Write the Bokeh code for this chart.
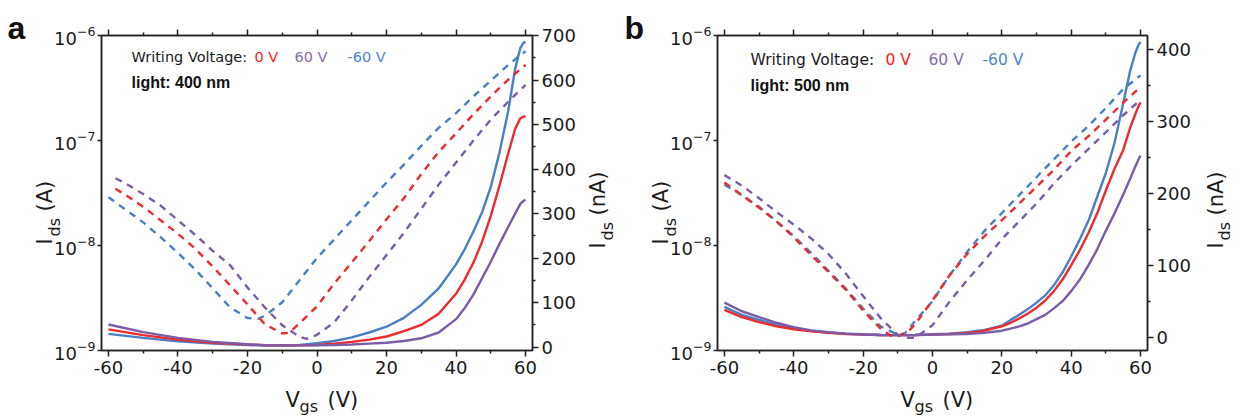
from math import pi
from bokeh.plotting import figure
from bokeh.models import Range1d, LinearAxis, FixedTicker, LinearScale, CustomJSTickFormatter
from bokeh.core.properties import value
from bokeh.layouts import row
from bokeh.embed import file_html
from bokeh.resources import INLINE

RED = "#ee2a2c"
PURPLE = "#7b5ca6"
BLUE = "#4a7fc3"
TXT_RED = "#ff1a1a"
TXT_PURPLE = "#8a6db2"
TXT_BLUE = "#4f86c9"

# ---------------- data (I_ds in nA) ----------------
# Panel a: light 400 nm. Dashed curves -> left log axis (A), solid -> right axis (nA)
a_blue_dash_v = [-60, -55, -50, -45, -40, -35, -30, -25, -20, -17, -15, -10, -5, 0, 5, 10, 15, 20, 25, 30, 35, 40, 45, 50, 55, 60]
a_blue_dash_i = [28.8, 21.9, 16.6, 12.0, 8.5, 5.9, 3.9, 2.57, 2.04, 2.0, 2.14, 2.88, 4.68, 7.6, 11.5, 17.4, 26.3, 39.8, 59, 89, 132, 182, 263, 372, 525, 708]
a_red_dash_v = [-58, -55, -50, -45, -40, -35, -30, -25, -20, -15, -10, -8, -5, 0, 5, 10, 15, 20, 25, 30, 35, 40, 45, 50, 55, 60]
a_red_dash_i = [34.7, 30.2, 23.4, 17.4, 12.9, 9.3, 6.3, 4.17, 2.75, 1.78, 1.45, 1.48, 1.82, 2.63, 4.37, 6.9, 11.0, 17.8, 28.2, 47.9, 77.6, 117, 178, 263, 380, 525]
a_purple_dash_v = [-58, -55, -50, -45, -40, -35, -30, -25, -20, -15, -10, -5, -3, 0, 5, 10, 15, 20, 25, 30, 35, 40, 45, 50, 55, 60]
a_purple_dash_i = [43.7, 38.9, 30.9, 24.0, 17.4, 12.6, 8.9, 6.5, 3.98, 2.57, 1.74, 1.35, 1.29, 1.41, 1.86, 3.0, 5.0, 8.1, 13.2, 22.4, 38.0, 61.7, 100, 158, 234, 339]

a_solid_v = [-60, -50, -40, -30, -20, -15, -10, -5, 0, 5, 10, 15, 20, 25, 30, 35, 40, 42.5, 45, 47.5, 50, 52.5, 55, 57, 58.5, 59.5, 60]
a_blue_solid = [30, 21, 13, 8, 5, 4, 4, 5, 9, 14, 22, 33, 46, 66, 95, 132, 186, 220, 260, 303, 360, 437, 530, 625, 672, 684, 686]
a_red_solid = [40, 27, 17, 10, 6, 4.5, 4, 4, 5, 8, 12, 17, 24, 36, 50, 75, 120, 152, 190, 237, 295, 363, 435, 490, 514, 518, 519]
a_purple_solid = [51, 34, 21, 12, 6.5, 4.5, 3.8, 4, 4.5, 5, 6, 8, 10, 14, 20, 33, 63, 88, 118, 155, 192, 232, 270, 300, 322, 329, 331]

# Panel b: light 500 nm
b_blue_dash_v = [-60, -55, -50, -45, -40, -35, -30, -25, -20, -15, -10, -8, -5, 0, 5, 10, 15, 20, 25, 30, 35, 40, 45, 50, 55, 60]
b_blue_dash_i = [38.0, 30.2, 23.4, 17.0, 12.3, 8.5, 5.75, 3.89, 2.51, 1.70, 1.41, 1.45, 1.91, 2.95, 5.25, 8.7, 13.8, 20.4, 30.2, 44.7, 66.1, 97.7, 138, 204, 309, 417]
b_red_dash_v = [-60, -55, -50, -45, -40, -35, -30, -25, -20, -15, -12, -10, -7, -5, 0, 5, 10, 15, 20, 25, 30, 35, 40, 45, 50, 55, 60]
b_red_dash_i = [39.8, 30.2, 22.9, 17.0, 12.0, 8.1, 5.6, 3.8, 2.4, 1.62, 1.38, 1.38, 1.51, 1.78, 3.0, 5.25, 8.3, 12.3, 17.4, 25.1, 36.3, 52.5, 79.4, 110, 158, 229, 324]
b_purple_dash_v = [-60, -55, -50, -45, -40, -35, -30, -25, -20, -15, -10, -7, -5, 0, 5, 10, 15, 20, 25, 30, 35, 40, 45, 50, 55, 60]
b_purple_dash_i = [46.8, 37.2, 28.2, 20.9, 15.8, 11.7, 8.3, 5.4, 3.3, 2.04, 1.41, 1.32, 1.32, 1.74, 2.95, 4.68, 7.2, 11.5, 17.0, 25.1, 38.9, 57.5, 83.2, 120, 174, 245]

b_solid_v = [-60, -55, -50, -45, -40, -35, -30, -25, -20, -15, -10, -5, 0, 5, 10, 15, 20, 22.5, 25, 27.5, 30, 32.5, 35, 37.5, 40, 42.5, 45, 47.5, 50, 52.5, 55, 57, 58.5, 59.5, 60]
b_blue_solid = [42, 31, 24, 17, 12.5, 9, 6.5, 5, 4, 3, 2.8, 3, 4, 5, 7, 10, 16, 24, 31, 39, 48, 58, 72, 90, 112, 136, 162, 195, 228, 270, 325, 370, 395, 407, 410]
b_red_solid = [38, 28, 21, 15, 11, 8, 6, 4.5, 3.5, 3, 2.8, 3, 3.5, 4.5, 5.5, 9, 15, 20, 26, 33, 41, 51, 64, 80, 100, 121, 145, 172, 204, 234, 260, 291, 310, 322, 326]
b_purple_solid = [48, 36, 28, 20, 14, 9.5, 7, 5, 3.5, 3, 2.8, 3, 3.5, 4, 4.5, 6, 9, 12, 15, 19, 25, 31, 40, 50, 64, 80, 100, 122, 148, 172, 198, 220, 237, 248, 252]

x_major = [-60, -40, -20, 0, 20, 40, 60]
x_minor = [-50, -30, -10, 10, 30, 50]
x_tick_labels = {-60: "-60", -40: "-40", -20: "-20", 0: "0", 20: "20", 40: "40", 60: "60"}
a_right_major = [0, 100, 200, 300, 400, 500, 600, 700]
a_right_minor = [50, 150, 250, 350, 450, 550, 650]
b_right_major = [0, 100, 200, 300, 400]
b_right_minor = [50, 150, 250, 350]

W = 620
H = 416
B_TOP = 35
B_BOTTOM = 66
FRAME_BOTTOM = H - B_BOTTOM
FRAME_H = H - B_TOP - B_BOTTOM
X0, X1 = -62, 62
FONT = "DejaVu Sans"


def to_amp(vals):
    return [v * 1e-9 for v in vals]


def style_axis(ax, label_size="18px"):
    ax.axis_line_width = 1.5
    ax.axis_line_color = "#222222"
    ax.major_tick_line_width = 1.5
    ax.major_tick_line_color = "#222222"
    ax.minor_tick_line_width = 1.5
    ax.minor_tick_line_color = "#222222"
    ax.major_tick_in = 0
    ax.major_tick_out = 6
    ax.minor_tick_in = 0
    ax.minor_tick_out = 3
    ax.major_label_text_font = FONT
    ax.major_label_text_font_size = label_size
    ax.major_label_text_color = "#1a1a1a"
    ax.major_label_standoff = 4


def make_panel(border_left, border_right, right_range, right_major, right_minor,
               dashes, solids, letter, light_text, leg, lab):
    p = figure(width=W, height=H, x_range=Range1d(X0, X1), y_range=Range1d(1e-9, 1e-6),
               y_axis_type="log", output_backend="svg", toolbar_location=None,
               min_border_left=border_left, min_border_right=border_right,
               min_border_top=B_TOP, min_border_bottom=B_BOTTOM)
    p.grid.visible = False
    p.outline_line_color = "#222222"
    p.outline_line_width = 1.5
    p.background_fill_color = "white"
    p.border_fill_color = "white"

    r0, r1 = right_range
    p.extra_y_ranges = {"nA": Range1d(r0, r1)}
    p.extra_y_scales = {"nA": LinearScale()}
    frame_w = W - border_left - border_right

    # text helper: position given in page pixels (x from left, ytop from top)
    def add_text(x, ytop, text, size, color="#1a1a1a", font=FONT, style="normal",
                 angle=0.0, baseline="alphabetic"):
        xd = X0 + (x - border_left) * (X1 - X0) / frame_w
        yd = r0 + (FRAME_BOTTOM - ytop) * (r1 - r0) / FRAME_H
        p.text(x=[xd], y=[yd], text=[text], y_range_name="nA", level="overlay",
               text_font=value(font), text_font_size=size, text_color=color,
               text_font_style=style, angle=angle, text_align="left",
               text_baseline=baseline)

    # bottom axis
    p.xaxis.ticker = FixedTicker(ticks=x_major, minor_ticks=x_minor)
    style_axis(p.xaxis[0])
    p.xaxis[0].major_label_overrides = x_tick_labels
    # left log axis
    style_axis(p.yaxis[0])
    p.yaxis[0].minor_tick_line_color = None
    p.yaxis[0].major_tick_out = 4
    p.yaxis[0].major_label_standoff = 2
    # right linear axis
    rax = LinearAxis(y_range_name="nA", ticker=FixedTicker(ticks=right_major, minor_ticks=right_minor))
    style_axis(rax)
    rax.major_label_standoff = 3
    p.add_layout(rax, "right")
    # top axis (ticks only)
    tax = LinearAxis(ticker=FixedTicker(ticks=x_major, minor_ticks=x_minor),
                     formatter=CustomJSTickFormatter(code="return ''"))
    style_axis(tax)
    tax.major_label_standoff = 0
    p.add_layout(tax, "above")

    for (v, i, c) in solids:
        p.line(v, i, color=c, line_width=2.4, y_range_name="nA")
    for (v, i, c) in dashes:
        p.line(v, to_amp(i), color=c, line_width=2.4, line_dash="7 6")

    # panel letter
    add_text(letter[1], 27, letter[0], "32px", "#111111", "Liberation Sans", "bold")

    # legend-like annotation
    lx, ly, fs, xs = leg
    add_text(lx, ly, "Writing Voltage:", fs, "#1a1a1a", baseline="middle")
    add_text(xs[0], ly, "0 V", fs, TXT_RED, baseline="middle")
    add_text(xs[1], ly, "60 V", fs, TXT_PURPLE, baseline="middle")
    add_text(xs[2], ly, "-60 V", fs, TXT_BLUE, baseline="middle")
    add_text(lx, ly + 26, light_text, "16px", "#111111", "Liberation Sans", "bold", baseline="middle")

    # axis titles with subscripts
    xl, yl_main, yl_sub, yr_main, yr_sub = lab
    add_text(xl, 399, "V", "21px")
    add_text(xl + 14, 406, "gs", "16px")
    add_text(xl + 42, 399, "(V)", "21px")

    add_text(yl_main, 244, "I", "21px", angle=pi / 2)
    add_text(yl_sub, 236, "ds", "16px", angle=pi / 2)
    add_text(yl_main, 211, "(A)", "21px", angle=pi / 2)

    add_text(yr_main, 248, "I", "21px", angle=pi / 2)
    add_text(yr_sub, 240, "ds", "16px", angle=pi / 2)
    add_text(yr_main, 215, "(nA)", "21px", angle=pi / 2)
    return p


pa = make_panel(
    101, 88, (-7.4, 700), a_right_major, a_right_minor,
    dashes=[(a_blue_dash_v, a_blue_dash_i, BLUE), (a_red_dash_v, a_red_dash_i, RED),
            (a_purple_dash_v, a_purple_dash_i, PURPLE)],
    solids=[(a_solid_v, a_blue_solid, BLUE), (a_solid_v, a_red_solid, RED),
            (a_solid_v, a_purple_solid, PURPLE)],
    letter=("a", 7), light_text="light: 400 nm",
    leg=(131, 56, "14.5px", (254, 294, 347)),
    lab=(285, 44, 54, 597, 607),
)

pb = make_panel(
    97, 93, (-18.5, 419), b_right_major, b_right_minor,
    dashes=[(b_blue_dash_v, b_blue_dash_i, BLUE), (b_red_dash_v, b_red_dash_i, RED),
            (b_purple_dash_v, b_purple_dash_i, PURPLE)],
    solids=[(b_solid_v, b_blue_solid, BLUE), (b_solid_v, b_red_solid, RED),
            (b_solid_v, b_purple_solid, PURPLE)],
    letter=("b", 4), light_text="light: 500 nm",
    leg=(130, 59, "15.5px", (265, 308, 362)),
    lab=(280, 40, 50, 595, 604),
)

layout = row(pa, pb)
open("out.html", "w").write(file_html(layout, INLINE))
